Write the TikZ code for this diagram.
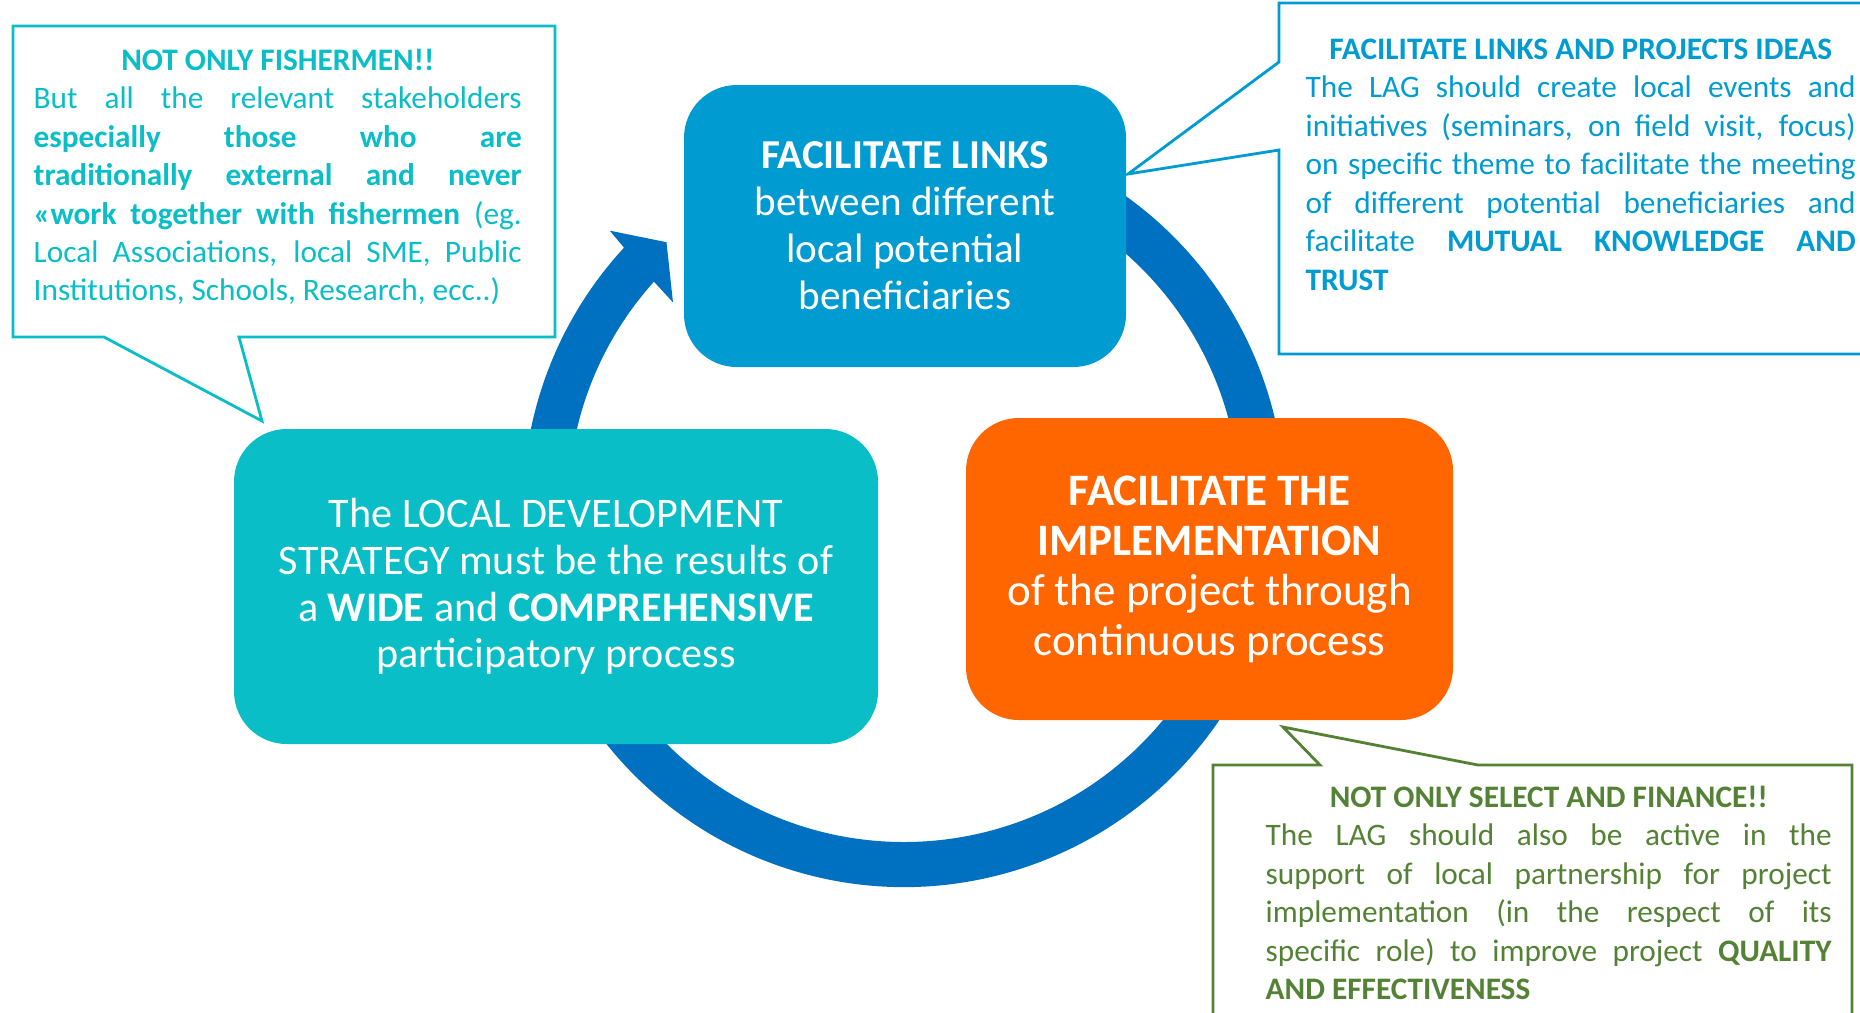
\documentclass[tikz,border=0pt]{standalone}
\usepackage{fontspec}
\setmainfont{Carlito}
\definecolor{linkblue}{HTML}{009CD1}
\definecolor{ldsteal}{HTML}{09BEC6}
\definecolor{implorange}{HTML}{FF6600}
\definecolor{cycleblue}{HTML}{0070C0}
\definecolor{notegreen}{HTML}{548235}
\tolerance=10000 \hbadness=10000 \hyphenpenalty=10000
\begin{document}
\begin{tikzpicture}[
		box/.style={rounded corners=15pt, inner sep=0pt, text=white, align=center},
		note/.style={line width=0.8pt, fill=white},
		notetext/.style={inner sep=0pt, anchor=north west, align=justify, font=\fontsize{8.9}{10.95}\selectfont}]
		\useasboundingbox (0,0) rectangle (18.6,-10.12);
		\clip (0,0) rectangle (18.6,-10.12);

		\coordinate (ctr) at (9.04,-5.06);
		\fill[cycleblue] ([shift={(70:3.81)}]ctr) arc[start angle=70, end angle=-222.7, radius=3.81]
			-- ([shift={(-223.1:4.03)}]ctr) -- ([shift={(-228:3.55)}]ctr)
			-- ([shift={(-221.4:3.08)}]ctr) -- ([shift={(-221.9:3.36)}]ctr)
			arc[start angle=-221.9, end angle=70, radius=3.36] -- cycle;

		\node[box, fill=linkblue, minimum width=4.42cm, minimum height=2.82cm, font=\fontsize{11.7}{13.4}\selectfont] (links) at (9.05,-2.26)
			{\textbf{FACILITATE LINKS}\\between different\\local potential\\beneficiaries};
		\node[box, fill=ldsteal, minimum width=6.44cm, minimum height=3.15cm, font=\fontsize{12}{13.3}\selectfont] (strategy) at (5.56,-5.865)
			{The LOCAL DEVELOPMENT\\STRATEGY must be the results of\\a \textbf{WIDE} and \textbf{COMPREHENSIVE}\\participatory process};
		\node[box, fill=implorange, minimum width=4.87cm, minimum height=3.02cm, font=\fontsize{12.8}{14.2}\selectfont] (impl) at (12.095,-5.69)
			{\textbf{FACILITATE THE}\\\textbf{IMPLEMENTATION}\\of the project through\\continuous process};

		\draw[note, draw=ldsteal] (0.13,-0.26) -- (5.55,-0.26) -- (5.55,-3.37) -- (2.39,-3.37) -- (2.62,-4.21) -- (1.04,-3.37) -- (0.13,-3.37) -- cycle;
		\draw[note, draw=linkblue] (12.79,-0.03) -- (19,-0.03) -- (19,-3.54) -- (12.79,-3.54) -- (12.79,-1.50) -- (11.28,-1.74) -- (12.79,-0.62) -- cycle;
		\draw[note, draw=notegreen] (12.13,-7.65) -- (13.20,-7.65) -- (12.83,-7.27) -- (14.78,-7.65) -- (18.52,-7.65) -- (18.52,-10.5) -- (12.13,-10.5) -- cycle;

		\node[notetext, text=ldsteal, text width=4.88cm] (fishnote) at (0.33,-0.48)
			{{\centering\textbf{NOT ONLY FISHERMEN!!}\par}
			But all the relevant stakeholders\linebreak
			\textbf{especially those who are}\linebreak
			\textbf{traditionally external and never}\linebreak
			\textbf{«work together with fishermen} (eg.\linebreak
			Local Associations, local SME, Public\linebreak
			Institutions, Schools, Research, ecc..)};
		\node[notetext, text=linkblue, text width=5.50cm] (linknote) at (13.05,-0.38)
			{{\centering\textbf{FACILITATE LINKS AND PROJECTS IDEAS}\par}
			The LAG should create local events and\linebreak
			initiatives (seminars, on field visit, focus)\linebreak
			on specific theme to facilitate the meeting\linebreak
			of different potential beneficiaries and\linebreak
			facilitate \textbf{MUTUAL KNOWLEDGE AND}\linebreak
			\textbf{TRUST}};
		\node[notetext, text=notegreen, text width=5.66cm] (implnote) at (12.65,-7.85)
			{{\centering\textbf{NOT ONLY SELECT AND FINANCE!!}\par}
			The LAG should also be active in the\linebreak
			support of local partnership for project\linebreak
			implementation (in the respect of its\linebreak
			specific role) to improve project \textbf{QUALITY}\linebreak
			\textbf{AND EFFECTIVENESS}};
	\end{tikzpicture}
\end{document}
